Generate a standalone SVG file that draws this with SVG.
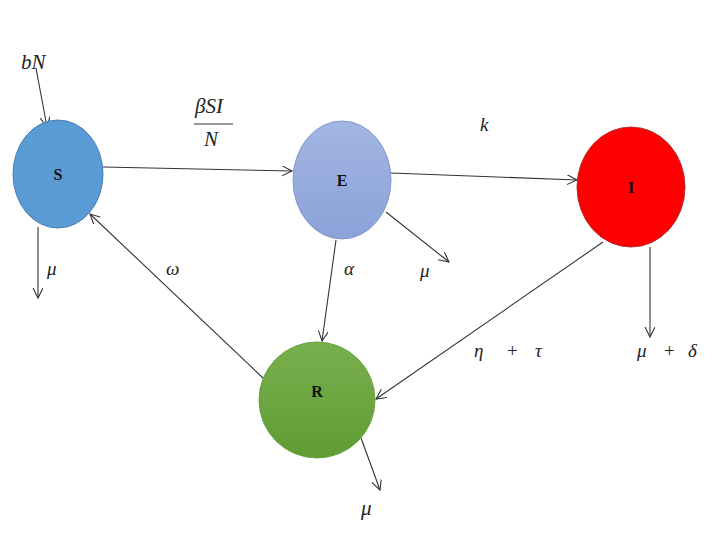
<svg xmlns="http://www.w3.org/2000/svg" width="716" height="547" viewBox="0 0 716 547">
<style>
.conn{stroke:#333;stroke-width:1.1;fill:none;marker-end:url(#arr)}
.lbl{font-family:"Liberation Serif",serif;font-style:italic;font-size:19px;fill:#222}
.big{font-size:21px}
.up{font-style:normal}
.nl{font-family:"Liberation Serif",serif;font-weight:bold;font-size:16px;fill:#111;text-anchor:middle}
</style>
<defs>
<marker id="arr" markerWidth="12" markerHeight="12" refX="10" refY="5" orient="auto" markerUnits="userSpaceOnUse">
<path d="M0,0 L10,5 L0,10" fill="none" stroke="#333" stroke-width="1.1"/>
</marker>
<linearGradient id="gE" x1="0" y1="0" x2="0" y2="1"><stop offset="0" stop-color="#a3b6e3"/><stop offset="1" stop-color="#8aa2d8"/></linearGradient>
<linearGradient id="gR" x1="0" y1="0" x2="0" y2="1"><stop offset="0" stop-color="#79b04e"/><stop offset="1" stop-color="#5f9c33"/></linearGradient>
</defs>
<rect width="716" height="547" fill="#fff"/>
<g id="connectors">
<line class="conn" x1="36" y1="68" x2="47" y2="127"/>
<line class="conn" x1="103" y1="167" x2="292" y2="171"/>
<line class="conn" x1="391" y1="173" x2="577" y2="180"/>
<line class="conn" x1="38" y1="227" x2="38" y2="298"/>
<line class="conn" x1="263" y1="378" x2="90" y2="214"/>
<line class="conn" x1="386" y1="212" x2="449" y2="262"/>
<line class="conn" x1="336" y1="240" x2="322" y2="341"/>
<line class="conn" x1="603" y1="242" x2="376" y2="399"/>
<line class="conn" x1="650" y1="247" x2="650" y2="337"/>
<line class="conn" x1="361" y1="438" x2="380" y2="490"/>
</g>
<g id="S"><ellipse cx="58" cy="174" rx="45" ry="54" fill="#5b9bd5" stroke="#4a7fb5" stroke-width="1"/><text class="nl" x="58" y="180">S</text></g>
<g id="E"><ellipse cx="342" cy="180" rx="49" ry="59" fill="url(#gE)" stroke="#8199cc" stroke-width="1"/><text class="nl" x="342" y="186">E</text></g>
<g id="I"><ellipse cx="631" cy="187" rx="54" ry="60" fill="#ff0000" stroke="#b03030" stroke-width="1"/><text class="nl" x="631" y="193">I</text></g>
<g id="R"><ellipse cx="317" cy="400" rx="58" ry="58" fill="url(#gR)" stroke="#6aa340" stroke-width="1"/><text class="nl" x="317" y="397">R</text></g>
<g id="labels">
<text class="lbl big" x="21" y="69">bN</text>
<text class="lbl big" x="195" y="113">βSI</text>
<line x1="194" y1="124" x2="233" y2="124" stroke="#333" stroke-width="1.2"/>
<text class="lbl big" x="204" y="146">N</text>
<text class="lbl" x="480" y="131">k</text>
<text class="lbl" x="47" y="275">μ</text>
<text class="lbl" x="166" y="275">ω</text>
<text class="lbl" x="344" y="275">α</text>
<text class="lbl" x="420" y="277">μ</text>
<text class="lbl" x="474" y="357">η</text>
<text class="lbl up" x="507" y="357">+</text>
<text class="lbl" x="535" y="357">τ</text>
<text class="lbl" x="637" y="357">μ</text>
<text class="lbl up" x="664" y="357">+</text>
<text class="lbl" x="688" y="357">δ</text>
<text class="lbl big" x="361" y="515">μ</text>
</g>
</svg>
